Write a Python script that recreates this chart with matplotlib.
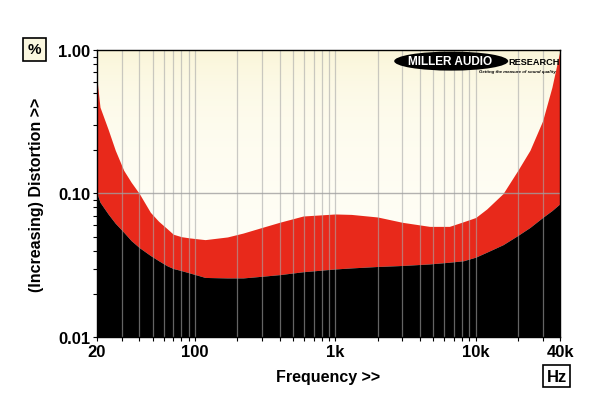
import numpy as np
import matplotlib
matplotlib.use("Agg")
import matplotlib.pyplot as plt
from matplotlib.patches import Ellipse

plt.rcParams['font.family'] = ['Liberation Sans', 'DejaVu Sans']

# frekans noktalari (Hz) ve iki egri (%)
freq = [20, 21, 24, 27, 31, 35, 40, 48, 55, 63, 70, 80, 92, 118, 170, 220, 300,
        400, 590, 1000, 1300, 2000, 3000, 4700, 6500, 8200, 10000, 12000, 15700,
        20000, 24400, 30000, 35000, 40000]
thd_upper = [0.62, 0.40, 0.28, 0.20, 0.145, 0.12, 0.10, 0.074, 0.064, 0.057, 0.052,
             0.050, 0.049, 0.0477, 0.0498, 0.053, 0.058, 0.063, 0.0697, 0.072, 0.0715,
             0.0686, 0.063, 0.059, 0.059, 0.0636, 0.068, 0.078, 0.10, 0.145, 0.20,
             0.32, 0.55, 1.0]
thd_lower = [0.10, 0.087, 0.072, 0.062, 0.0537, 0.047, 0.042, 0.037, 0.034, 0.0314,
             0.0300, 0.0290, 0.0279, 0.026, 0.0258, 0.0258, 0.0265, 0.0272, 0.0285,
             0.0298, 0.0303, 0.031, 0.0315, 0.0323, 0.0332, 0.034, 0.036, 0.039,
             0.044, 0.051, 0.058, 0.068, 0.076, 0.085]

grid_freqs = [30, 40, 50, 60, 70, 80, 90, 100, 200, 300, 400, 500, 600, 700, 800, 900,
              1000, 2000, 3000, 4000, 5000, 6000, 7000, 8000, 9000, 10000, 20000, 30000]
x_ticks = [20, 100, 1000, 10000, 40000]
x_labels = ["20", "100", "1k", "10k", "40k"]
y_ticks = [0.01, 0.1, 1.0]
y_labels = ["0.01", "0.10", "1.00"]

fig = plt.figure(figsize=(6, 4.14), dpi=100)
ax = fig.add_axes([0.1617, 0.1836, 0.7717, 0.6932])
ax.set_xscale("log")
ax.set_yscale("log")

# krem arka plan (hafif gradyan)
grad = np.linspace(0, 1, 256).reshape(-1, 1)
cmap = matplotlib.colors.LinearSegmentedColormap.from_list("bg", ["#fffef6", "#faf5d8"])
ax.imshow(grad, cmap=cmap, aspect="auto", extent=[20, 40000, 0.01, 1.0],
          origin="lower", zorder=0)
ax.set_xlim(20, 40000)
ax.set_ylim(0.01, 1.0)

ax.fill_between(freq, thd_lower, thd_upper, color="#e8291b", lw=0, zorder=1)
ax.fill_between(freq, 0.01, thd_lower, color="black", lw=0, zorder=1)

for f in grid_freqs:
    ax.axvline(f, color="#a8a8a8", alpha=0.6, lw=0.9, zorder=2)
ax.axhline(0.1, color="#a0a0a0", alpha=0.8, lw=1.0, zorder=2)

ax.set_xticks(x_ticks)
ax.set_xticklabels(x_labels, fontsize=12, fontweight="bold")
ax.set_xticks(grid_freqs, minor=True)
ax.set_xticklabels([], minor=True)
ax.set_yticks(y_ticks)
ax.set_yticklabels(y_labels, fontsize=12, fontweight="bold")
ax.set_yticks([0.02, 0.03, 0.04, 0.05, 0.06, 0.07, 0.08, 0.09,
               0.2, 0.3, 0.4, 0.5, 0.6, 0.7, 0.8, 0.9], minor=True)
ax.set_yticklabels([], minor=True)
ax.tick_params(which="both", length=3, width=0.8, pad=2)
for s in ax.spines.values():
    s.set_linewidth(1.0)

ax.set_xlabel("Frequency >>", fontsize=11.5, fontweight="bold", labelpad=7)
ax.set_ylabel("(Increasing) Distortion >>", fontsize=11.5, fontweight="bold", labelpad=10)

# birim kutulari
fig.text(0.058, 0.879, "%", fontsize=11, fontweight="bold", ha="center", va="center",
         bbox=dict(boxstyle="square,pad=0.3", fc="#fbf7df", ec="black", lw=1.2))
fig.text(0.928, 0.089, "Hz", fontsize=12, fontweight="bold", ha="center", va="center",
         bbox=dict(boxstyle="square,pad=0.2", fc="white", ec="black", lw=1.2))

# logo
fig.patches.append(Ellipse((0.752, 0.850), 0.190, 0.046, transform=fig.transFigure,
                           fc="black", ec="none", zorder=5))
fig.text(0.750, 0.850, "MILLER AUDIO", fontsize=8.5, fontweight="bold", color="white",
         ha="center", va="center", zorder=6)
fig.text(0.847, 0.850, "RESEARCH", fontsize=6.6, fontweight="bold", color="black",
         ha="left", va="center", zorder=6)
fig.text(0.927, 0.826, "Getting the measure of sound quality", fontsize=3.2,
         fontweight="bold", style="italic", color="black", ha="right", va="center", zorder=6)

fig.savefig("out.png", dpi=100)
